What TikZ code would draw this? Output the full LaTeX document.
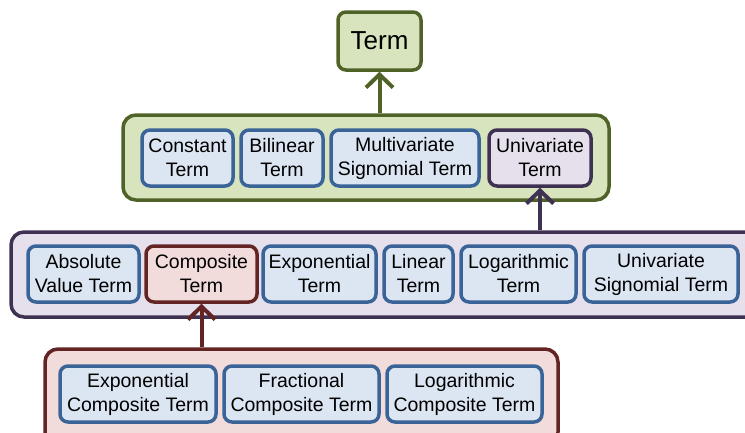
\documentclass[tikz,border=0pt]{standalone}
\usepackage{fontspec}
\setmainfont{Liberation Sans}
\usetikzlibrary{arrows.meta}
\definecolor{gfill}{HTML}{D7E4BD}
\definecolor{gline}{HTML}{4F6228}
\definecolor{bfill}{HTML}{DCE6F2}
\definecolor{bline}{HTML}{3A6398}
\definecolor{pfill}{HTML}{E6E0EC}
\definecolor{pline}{HTML}{3F3151}
\definecolor{rfill}{HTML}{F2DCDB}
\definecolor{rline}{HTML}{632523}
\tikzset{
  box/.style={draw, line width=3.5pt, rounded corners=8pt, minimum height=56pt, align=center, inner sep=0pt, font=\fontsize{19.5}{24}\selectfont},
  bluebox/.style={box, fill=bfill, draw=bline},
  container/.style={draw, line width=3.5pt, rounded corners=13pt, inner sep=0pt},
  up/.style={line width=4pt, -{Straight Barb[length=13pt,width=27pt,line width=4pt]}},
}
\begin{document}
\begin{tikzpicture}[x=1pt,y=-1pt]
\useasboundingbox (0,0) rectangle (745,432);
\clip (0,0) rectangle (745,432);
% top
\node[box, fill=gfill, draw=gline, minimum width=83pt, minimum height=58pt, font=\fontsize{26}{30}\selectfont] (term) at (379.5,41) {Term};
% green container
\node[container, fill=gfill, draw=gline, minimum width=486pt, minimum height=85pt] (green) at (366,157.5) {};
\node[bluebox, minimum width=91pt] (const) at (187.5,158) {Constant\\Term};
\node[bluebox, minimum width=82pt] (bilin) at (282,158) {Bilinear\\Term};
\node[bluebox, minimum width=148pt] (multi) at (405,158) {Multivariate\\Signomial Term};
\node[box, fill=pfill, draw=pline, minimum width=102pt] (univ) at (540,158) {Univariate\\Term};
% purple container
\node[container, fill=pfill, draw=pline, minimum width=760pt, minimum height=85pt] (purple) at (391,274.5) {};
\node[bluebox, minimum width=111pt] (abs) at (83.5,274) {Absolute\\Value Term};
\node[box, fill=rfill, draw=rline, minimum width=111pt] (comp) at (201.5,274) {Composite\\Term};
\node[bluebox, minimum width=113pt] (expo) at (319.5,274) {Exponential\\Term};
\node[bluebox, minimum width=69pt] (lin) at (418.5,274) {Linear\\Term};
\node[bluebox, minimum width=115pt] (loga) at (518.5,274) {Logarithmic\\Term};
\node[bluebox, minimum width=154pt] (usig) at (661,274) {Univariate\\Signomial Term};
% pink container
\node[container, fill=rfill, draw=rline, minimum width=513pt, minimum height=96pt] (pink) at (301.5,397) {};
\node[bluebox, minimum width=156pt] (ecomp) at (138,394) {Exponential\\Composite Term};
\node[bluebox, minimum width=155pt] (fcomp) at (301.5,394) {Fractional\\Composite Term};
\node[bluebox, minimum width=155pt] (lcomp) at (464.5,394) {Logarithmic\\Composite Term};
% arrows
\draw[up, draw=gline] (green.north -| term.south) -- (term.south);
\draw[up, draw=pline] (purple.north -| univ.south) -- (univ.south);
\draw[up, draw=rline] (pink.north -| comp.south) -- (comp.south);
\end{tikzpicture}
\end{document}
